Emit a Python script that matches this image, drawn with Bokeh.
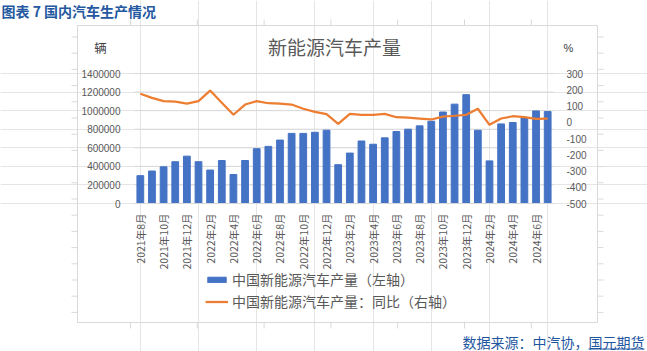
from bokeh.plotting import figure
from bokeh.models import (Range1d, LinearAxis, FixedTicker, Label, Legend, LegendItem,
                          ColumnDataSource)
from bokeh.embed import file_html
from bokeh.resources import INLINE
from math import pi

months = ["2021年8月", "2021年9月", "2021年10月", "2021年11月", "2021年12月",
          "2022年1月", "2022年2月", "2022年3月", "2022年4月", "2022年5月", "2022年6月",
          "2022年7月", "2022年8月", "2022年9月", "2022年10月", "2022年11月", "2022年12月",
          "2023年1月", "2023年2月", "2023年3月", "2023年4月", "2023年5月", "2023年6月",
          "2023年7月", "2023年8月", "2023年9月", "2023年10月", "2023年11月", "2023年12月",
          "2024年1月", "2024年2月", "2024年3月", "2024年4月", "2024年5月", "2024年6月",
          "2024年7月"]
production = [300000, 350000, 395000, 450000, 510000, 450000, 360000, 463000, 312000,
              463000, 590000, 615000, 683000, 755000, 755000, 767000, 790000, 418000,
              543000, 673000, 638000, 707000, 775000, 800000, 836000, 886000, 985000,
              1070000, 1172000, 789000, 459000, 857000, 872000, 928000, 997000, 990000]
yoy = [175, 150, 130, 127, 115, 130, 195, 120, 46, 109, 130, 117, 115, 109, 83, 64, 50, -10,
       52, 46, 46, 52, 31, 29, 23, 17, 35, 40, 46, 83, -16, 23, 37, 31, 21, 23]
left_ticks = [0, 200000, 400000, 600000, 800000, 1000000, 1200000, 1400000]
right_ticks = [-500, -400, -300, -200, -100, 0, 100, 200, 300]

TXT = "#595959"
BORDER = "#D9D9D9"
BLUE_TXT = "#1F56A0"
FONT = "Noto Sans CJK SC"
NUM = "Liberation Sans"

# layout (pixels): canvas, plot area and the chart box around it
W, H = 647, 351
FL, FR, FT, FB = 134, 553, 73, 203
BL, BR, BT, BB = 77, 597, 25, 322

n = len(months)
x = list(range(n))
src = ColumnDataSource(dict(x=x, prod=production, yoy=yoy))

# ranges that span the whole canvas, so the plot area maps to [FL,FR]x[FT,FB]
x0, x1 = -0.5, n - 0.5
xpp = (x1 - x0) / (FR - FL)
l0, l1 = left_ticks[0], left_ticks[-1]
lpp = (l1 - l0) / (FB - FT)
r0, r1 = right_ticks[0], right_ticks[-1]
rpp = (r1 - r0) / (FB - FT)

X_START = x0 - FL * xpp
Y_END = l1 + FT * lpp

p = figure(width=W, height=H, output_backend="svg", toolbar_location=None,
           x_range=Range1d(X_START, x1 + (W - FR) * xpp),
           y_range=Range1d(l0 - (H - FB) * lpp, Y_END),
           min_border=0, x_axis_location=None, y_axis_location=None)
p.outline_line_color = None
p.background_fill_color = "white"
p.border_fill_color = "white"
p.extra_y_ranges = {"pct": Range1d(r0 - (H - FB) * rpp, r1 + FT * rpp)}


def dx(X):
    return X_START + X * xpp


def dy(Y):
    return Y_END - Y * lpp


# chart box and the sheet's cell-grid stubs around it
p.quad(left=[dx(BL)], right=[dx(BR)], top=[dy(BT)], bottom=[dy(BB)],
       fill_color=None, line_color=BORDER, line_width=1)
rows = [36.5 + 16.2 * i for i in range(18) if 36.5 + 16.2 * i < BB]
cols = [130 + 66.8 * i for i in range(7) if 130 + 66.8 * i < BR]
p.segment(x0=[dx(BL - 6)] * len(rows) + [dx(BR)] * len(rows),
          x1=[dx(BL)] * len(rows) + [dx(BR + 6)] * len(rows),
          y0=[dy(r) for r in rows] * 2, y1=[dy(r) for r in rows] * 2,
          line_color=BORDER, line_width=1)
p.segment(x0=[dx(c) for c in cols] * 2, x1=[dx(c) for c in cols] * 2,
          y0=[dy(BT - 6)] * len(cols) + [dy(BB)] * len(cols),
          y1=[dy(BT)] * len(cols) + [dy(BB + 6)] * len(cols),
          line_color=BORDER, line_width=1)

# gridlines (left axis)
p.segment(x0=[x0] * len(left_ticks), x1=[x1] * len(left_ticks), y0=left_ticks, y1=left_ticks,
          line_color=BORDER, line_width=1)

bars = p.vbar(x="x", top="prod", width=0.58, source=src, color="#4472C4")
line = p.line(x="x", y="yoy", source=src, y_range_name="pct", color="#ED7D31", line_width=2.25)


def style_axis(ax, font, size):
    ax.major_tick_line_color = None
    ax.minor_tick_line_color = None
    ax.major_label_text_font = font
    ax.major_label_text_font_size = size
    ax.major_label_text_color = TXT


xa = LinearAxis(fixed_location=l0, ticker=FixedTicker(ticks=x[::2]), bounds=(x0, x1))
xa.major_label_overrides = {i: months[i] for i in x}
xa.major_label_orientation = pi / 2
xa.axis_line_color = BORDER
style_axis(xa, FONT, "10.5px")
xa.major_label_standoff = 4
p.add_layout(xa, "below")

ya = LinearAxis(fixed_location=x0, ticker=FixedTicker(ticks=left_ticks), bounds=(l0, l1))
ya.major_label_overrides = {t: str(t) for t in left_ticks}
ya.axis_line_color = None
style_axis(ya, NUM, "10px")
ya.major_label_standoff = 8
p.add_layout(ya, "left")

ra = LinearAxis(y_range_name="pct", fixed_location=x1, ticker=FixedTicker(ticks=right_ticks),
                bounds=(r0, r1))
ra.major_label_overrides = {t: str(t) for t in right_ticks}
ra.axis_line_color = None
style_axis(ra, NUM, "10px")
ra.major_label_standoff = 7
p.add_layout(ra, "right")


def lab(X, Y, text, font, size, color, align="left", style="normal"):
    p.add_layout(Label(x=X, y=H - Y, x_units="screen", y_units="screen", text=text,
                       text_font=font, text_font_size=size, text_color=color,
                       text_align=align, text_baseline="middle", text_font_style=style))


lab(1, 10, "图表 7 国内汽车生产情况", FONT, "14px", "#2458A0", style="bold")
lab(334, 46, "新能源汽车产量", FONT, "19px", TXT, align="center")
lab(100, 47, "辆", FONT, "12.5px", "#404040", align="center")
lab(568, 47, "%", NUM, "11px", "#404040", align="center")
lab(644, 341, "数据来源：中汽协，国元期货", FONT, "14px", BLUE_TXT, align="right")
# underline of the source name
p.segment(x0=[dx(588)], x1=[dx(644)], y0=[dy(348.5)], y1=[dy(348.5)],
          line_color=BLUE_TXT, line_width=1)

legend = Legend(items=[LegendItem(label="中国新能源汽车产量（左轴）", renderers=[bars]),
                       LegendItem(label="中国新能源汽车产量：同比（右轴）", renderers=[line])],
                location=(205, H - 311), orientation="vertical",
                glyph_width=23, glyph_height=7, label_height=14, spacing=2,
                label_standoff=4, padding=0, margin=0,
                label_text_font=FONT, label_text_font_size="14px", label_text_color=TXT,
                border_line_color=None, background_fill_alpha=0)
p.add_layout(legend)

open("out.html", "w").write(file_html(p, INLINE))
